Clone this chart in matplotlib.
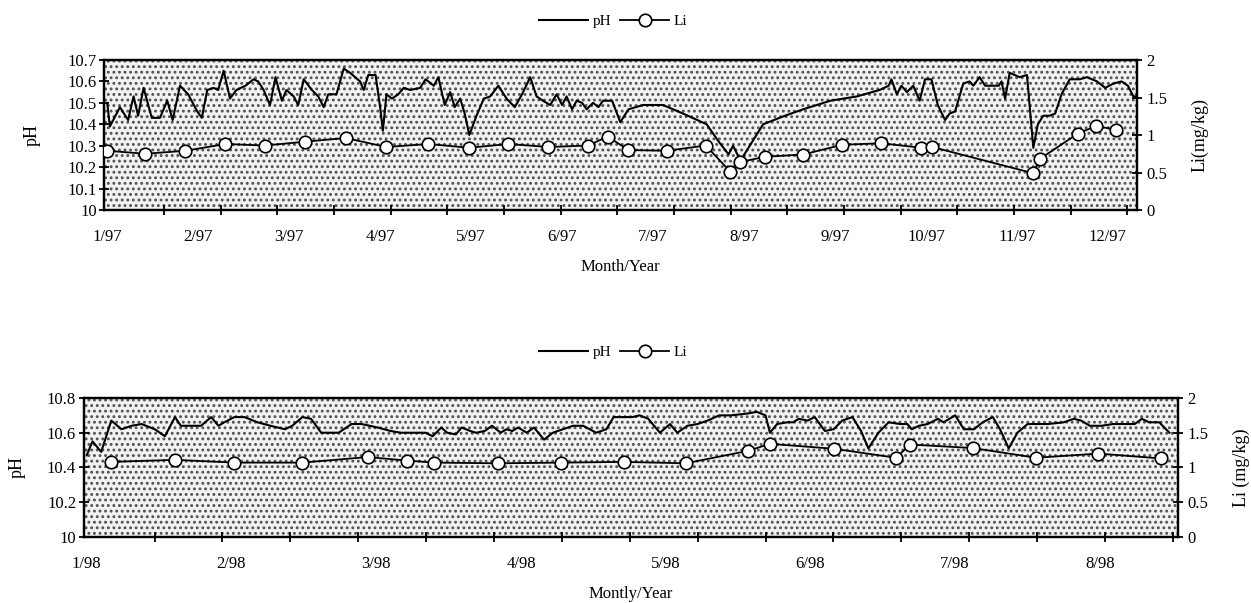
import numpy as np
import matplotlib
matplotlib.use("Agg")
import matplotlib.pyplot as plt
from matplotlib.patches import Rectangle

plt.rcParams['font.family'] = ['Liberation Serif', 'DejaVu Serif']
plt.rcParams['hatch.linewidth'] = 1.3

# ---- 1997 (x = months after 1/97) ----
ph97_x = [0.00, 0.03, 0.14, 0.23, 0.29, 0.34, 0.40, 0.49, 0.58, 0.66, 0.72, 0.80, 0.89, 0.99,
          1.04, 1.10, 1.17, 1.22, 1.28, 1.35, 1.42, 1.52, 1.61, 1.66, 1.72, 1.79, 1.85, 1.92,
          1.97, 2.05, 2.10, 2.16, 2.25, 2.32, 2.38, 2.43, 2.47, 2.52, 2.60, 2.67, 2.78, 2.82,
          2.87, 2.95, 3.00, 3.03, 3.07, 3.13, 3.20, 3.26, 3.33, 3.44, 3.50, 3.59, 3.64, 3.71,
          3.77, 3.82, 3.88, 3.93, 3.98, 4.06, 4.14, 4.21, 4.30, 4.39, 4.48, 4.56, 4.65, 4.72,
          4.79, 4.87, 4.94, 5.00, 5.05, 5.11, 5.16, 5.22, 5.27, 5.34, 5.40, 5.45, 5.55, 5.64,
          5.73, 5.89, 6.11, 6.33, 6.59, 6.72, 6.83, 6.88, 6.96, 7.21, 7.45, 7.65, 7.95, 8.24,
          8.49, 8.59, 8.62, 8.68, 8.73, 8.79, 8.86, 8.93, 8.99, 9.06, 9.13, 9.21, 9.26, 9.32,
          9.41, 9.48, 9.52, 9.59, 9.65, 9.80, 9.83, 9.87, 9.92, 10.03, 10.11, 10.18, 10.23,
          10.29, 10.36, 10.42, 10.49, 10.58, 10.69, 10.77, 10.88, 10.97, 11.06, 11.15, 11.22,
          11.28, 11.33]
ph97_y = [10.50, 10.39, 10.48, 10.42, 10.53, 10.44, 10.57, 10.43, 10.43, 10.51, 10.42, 10.58,
          10.54, 10.46, 10.43, 10.56, 10.57, 10.56, 10.65, 10.52, 10.56, 10.58, 10.61, 10.60,
          10.56, 10.49, 10.62, 10.51, 10.56, 10.53, 10.49, 10.61, 10.56, 10.53, 10.48, 10.54,
          10.54, 10.54, 10.66, 10.64, 10.60, 10.56, 10.63, 10.63, 10.48, 10.37, 10.54, 10.52,
          10.54, 10.57, 10.56, 10.57, 10.61, 10.58, 10.62, 10.49, 10.55, 10.48, 10.52, 10.45,
          10.35, 10.44, 10.52, 10.53, 10.58, 10.52, 10.48, 10.54, 10.62, 10.53, 10.51, 10.49,
          10.54, 10.49, 10.53, 10.47, 10.51, 10.50, 10.47, 10.50, 10.48, 10.51, 10.51, 10.41,
          10.47, 10.49, 10.49, 10.45, 10.40, 10.32, 10.26, 10.30, 10.23, 10.40, 10.44, 10.47,
          10.51, 10.53, 10.56, 10.58, 10.61, 10.54, 10.58, 10.55, 10.58, 10.51, 10.61, 10.61,
          10.49, 10.42, 10.45, 10.46, 10.59, 10.60, 10.58, 10.62, 10.58, 10.58, 10.60, 10.52,
          10.64, 10.62, 10.63, 10.29, 10.40, 10.44, 10.44, 10.45, 10.54, 10.61, 10.61, 10.62,
          10.60, 10.57, 10.59, 10.60, 10.58, 10.53, 10.53]
li97_x = [0.00, 0.42, 0.86, 1.30, 1.73, 2.17, 2.62, 3.07, 3.53, 3.98, 4.41, 4.85, 5.29, 5.50,
          5.73, 6.15, 6.58, 6.85, 6.96, 7.23, 7.65, 8.08, 8.51, 8.95, 9.07, 10.18, 10.25,
          10.67, 10.87, 11.09]
li97_y = [0.79, 0.75, 0.79, 0.88, 0.86, 0.91, 0.96, 0.84, 0.88, 0.83, 0.88, 0.84, 0.86, 0.98,
          0.80, 0.79, 0.86, 0.51, 0.64, 0.71, 0.74, 0.87, 0.89, 0.83, 0.84, 0.49, 0.68,
          1.02, 1.12, 1.07]
labels97 = ['1/97', '2/97', '3/97', '4/97', '5/97', '6/97', '7/97', '8/97', '9/97',
            '10/97', '11/97', '12/97']

# ---- 1998 (x = months after 1/98) ----
ph98_x = [0.00, 0.04, 0.10, 0.17, 0.24, 0.31, 0.38, 0.47, 0.54, 0.61, 0.65, 0.72, 0.79, 0.86,
          0.91, 0.95, 1.02, 1.09, 1.18, 1.27, 1.37, 1.42, 1.49, 1.55, 1.62, 1.74, 1.83, 1.90,
          2.01, 2.10, 2.17, 2.24, 2.34, 2.39, 2.45, 2.49, 2.55, 2.59, 2.65, 2.69, 2.75, 2.80,
          2.86, 2.90, 2.94, 2.98, 3.04, 3.09, 3.16, 3.22, 3.29, 3.36, 3.43, 3.52, 3.59, 3.64,
          3.70, 3.77, 3.82, 3.88, 3.92, 3.96, 4.03, 4.08, 4.15, 4.22, 4.29, 4.37, 4.45, 4.56,
          4.63, 4.69, 4.72, 4.77, 4.84, 4.88, 4.92, 4.98, 5.03, 5.10, 5.16, 5.22, 5.29, 5.35,
          5.40, 5.47, 5.54, 5.62, 5.67, 5.70, 5.75, 5.81, 5.88, 5.92, 5.96, 6.00, 6.06, 6.13,
          6.19, 6.26, 6.31, 6.37, 6.43, 6.50, 6.64, 6.75, 6.82, 6.87, 6.93, 7.01, 7.09, 7.17,
          7.24, 7.29, 7.34, 7.41, 7.48]
ph98_y = [10.47, 10.55, 10.49, 10.67, 10.62, 10.64, 10.65, 10.62, 10.58, 10.69, 10.64, 10.64,
          10.64, 10.69, 10.64, 10.66, 10.69, 10.69, 10.66, 10.64, 10.62, 10.64, 10.69, 10.68,
          10.60, 10.60, 10.65, 10.65, 10.63, 10.61, 10.60, 10.60, 10.60, 10.58, 10.63, 10.60,
          10.59, 10.63, 10.61, 10.60, 10.61, 10.64, 10.60, 10.62, 10.61, 10.63, 10.60, 10.63,
          10.56, 10.60, 10.62, 10.64, 10.64, 10.60, 10.62, 10.69, 10.69, 10.69, 10.70, 10.68,
          10.64, 10.60, 10.65, 10.60, 10.64, 10.65, 10.67, 10.70, 10.70, 10.71, 10.72, 10.70,
          10.60, 10.65, 10.66, 10.66, 10.68, 10.67, 10.69, 10.61, 10.62, 10.67, 10.69, 10.61,
          10.51, 10.60, 10.66, 10.65, 10.65, 10.62, 10.64, 10.65, 10.68, 10.66, 10.68, 10.70,
          10.62, 10.62, 10.66, 10.69, 10.62, 10.51, 10.60, 10.65, 10.65, 10.66, 10.68, 10.67,
          10.64, 10.64, 10.65, 10.65, 10.65, 10.68, 10.66, 10.66, 10.60]
li98_x = [0.17, 0.61, 1.02, 1.49, 1.94, 2.21, 2.40, 2.84, 3.28, 3.71, 4.14, 4.57, 4.72, 5.16,
          5.59, 5.69, 6.12, 6.56, 6.99, 7.42]
li98_y = [1.08, 1.11, 1.07, 1.07, 1.15, 1.10, 1.07, 1.06, 1.07, 1.08, 1.06, 1.24, 1.34, 1.27,
          1.14, 1.33, 1.28, 1.14, 1.20, 1.13]
labels98 = ['1/98', '2/98', '3/98', '4/98', '5/98', '6/98', '7/98', '8/98']


def panel(rect, xlim, ylim, yticks, tickstep, ntick, labels, phx, phy, lix, liy,
          xlabel, rlabel, leg_y, lx, rx):
    ax = fig.add_axes(rect)
    ax.set_facecolor('white')
    ax.add_patch(Rectangle((0, 0), 1, 1, transform=ax.transAxes, facecolor='#f2f2f2',
                           edgecolor='#505050', hatch='...', linewidth=0, zorder=0))
    ax.plot(phx, phy, color='black', lw=1.5, zorder=3, label='pH')
    ax.set_xlim(*xlim)
    ax.set_ylim(*ylim)
    ax.set_yticks(yticks)
    ax.set_yticklabels([('%g' % v) for v in yticks])
    ax.set_xticks(range(len(labels)))
    ax.set_xticklabels(labels)
    ax.set_xticks(np.arange(ntick) * tickstep, minor=True)
    ax.tick_params(axis='x', which='major', length=0, pad=14, labelsize=12)
    ax.tick_params(axis='x', which='minor', direction='inout', length=7, width=1.3)
    ax.tick_params(axis='y', direction='inout', length=7, width=1.3, labelsize=12, pad=2)
    ax.set_ylabel('pH', fontsize=13)
    ax.yaxis.set_label_coords(lx, 0.5)
    ax.set_xlabel(xlabel, fontsize=12, labelpad=10)

    ax2 = ax.twinx()
    ax2.plot(lix, liy, color='black', lw=1.3, marker='o', ms=9, mfc='white', mec='black',
             mew=1.2, zorder=4, label='Li')
    ax2.set_ylim(0, 2)
    ax2.set_yticks([0, 0.5, 1, 1.5, 2])
    ax2.set_yticklabels(['0', '0.5', '1', '1.5', '2'])
    ax2.tick_params(axis='y', direction='inout', length=7, width=1.3, labelsize=12, pad=3)
    ax2.set_ylabel(rlabel, fontsize=13)
    ax2.yaxis.set_label_coords(rx, 0.5)
    for a in (ax, ax2):
        for s in a.spines.values():
            s.set_linewidth(1.6)

    h1, l1 = ax.get_legend_handles_labels()
    h2, l2 = ax2.get_legend_handles_labels()
    fig.legend(h1 + h2, l1 + l2, loc='center', bbox_to_anchor=(0.49, leg_y), ncol=2,
               frameon=False, fontsize=11, handlelength=3.2, columnspacing=0.6,
               handletextpad=0.3)
    return ax


fig = plt.figure(figsize=(12.51, 6.03), dpi=100)

panel([0.0835, 0.6517, 0.8254, 0.2488], (-0.03, 11.32), (10, 10.7),
      [10, 10.1, 10.2, 10.3, 10.4, 10.5, 10.6, 10.7], 0.623, 19, labels97,
      ph97_x, ph97_y, li97_x, li97_y, 'Month/Year', 'Li(mg/kg)', 0.965, -0.062, 1.052)

panel([0.0670, 0.1095, 0.8747, 0.2305], (-0.02, 7.54), (10, 10.8),
      [10, 10.2, 10.4, 10.6, 10.8], 0.469, 17, labels98,
      ph98_x, ph98_y, li98_x, li98_y, 'Montly/Year', 'Li (mg/kg)', 0.416, -0.053, 1.050)

fig.savefig('out.png', dpi=100)
